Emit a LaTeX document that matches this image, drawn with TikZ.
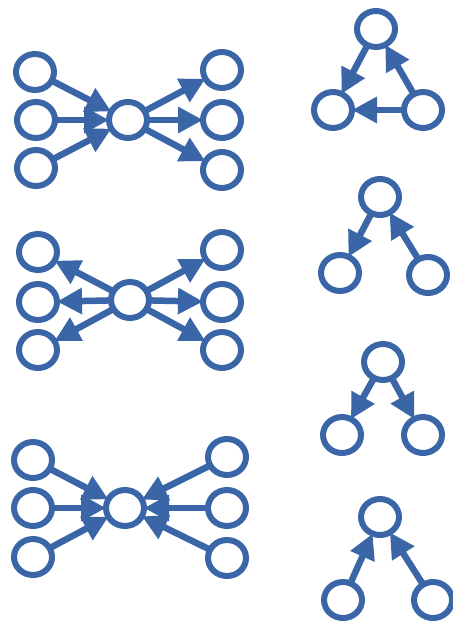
\documentclass[tikz,border=0pt]{standalone}
\usetikzlibrary{shapes.geometric,arrows.meta}
\definecolor{nblue}{RGB}{58,102,168}
\begin{document}
\begin{tikzpicture}[x=1pt,y=-1pt,
  nd/.style={ellipse,draw=nblue,line width=6pt,minimum width=38pt,minimum height=36pt,inner sep=0pt,outer sep=0pt},
  ar/.style={draw=nblue,line width=6.5pt,-{Triangle[length=25pt,width=25pt]},fill=nblue}]
\useasboundingbox[fill=white] (0,0) rectangle (452,628);
% group 1
\node[nd] (a1) at (35,72) {};
\node[nd] (a2) at (36,120) {};
\node[nd] (a3) at (36,168) {};
\node[nd] (ac) at (128,120) {};
\node[nd] (a4) at (222,70) {};
\node[nd] (a5) at (222,120) {};
\node[nd] (a6) at (222,170) {};
\draw[ar] (a1) -- (ac);
\draw[ar] (a2) -- (ac);
\draw[ar] (a3) -- (ac);
\draw[ar] (ac) -- (a4);
\draw[ar] (ac) -- (a5);
\draw[ar] (ac) -- (a6);
% group 2
\node[nd] (b1) at (38,252) {};
\node[nd] (b2) at (38,302) {};
\node[nd] (b3) at (38,350) {};
\node[nd] (bc) at (130,300) {};
\node[nd] (b4) at (222,250) {};
\node[nd] (b5) at (222,302) {};
\node[nd] (b6) at (222,350) {};
\draw[ar] (bc) -- (b1);
\draw[ar] (bc) -- (b2);
\draw[ar] (bc) -- (b3);
\draw[ar] (bc) -- (b4);
\draw[ar] (bc) -- (b5);
\draw[ar] (bc) -- (b6);
% group 3
\node[nd] (c1) at (33,460) {};
\node[nd] (c2) at (33,508) {};
\node[nd] (c3) at (33,557) {};
\node[nd] (cc) at (125,508) {};
\node[nd] (c4) at (227,457) {};
\node[nd] (c5) at (227,508) {};
\node[nd] (c6) at (227,558) {};
\draw[ar] (c1) -- (cc);
\draw[ar] (c2) -- (cc);
\draw[ar] (c3) -- (cc);
\draw[ar] (c4) -- (cc);
\draw[ar] (c5) -- (cc);
\draw[ar] (c6) -- (cc);
% group 4
\node[nd] (d1) at (376,29) {};
\node[nd] (d2) at (333,110) {};
\node[nd] (d3) at (423,110) {};
\draw[ar] (d1) -- (d2);
\draw[ar] (d3) -- (d1);
\draw[ar] (d3) -- (d2);
% group 5
\node[nd] (e1) at (380,197) {};
\node[nd] (e2) at (340,273) {};
\node[nd] (e3) at (428,275) {};
\draw[ar] (e1) -- (e2);
\draw[ar] (e3) -- (e1);
% group 6
\node[nd] (f1) at (383,362) {};
\node[nd] (f2) at (342,435) {};
\node[nd] (f3) at (423,435) {};
\draw[ar] (f1) -- (f2);
\draw[ar] (f1) -- (f3);
% group 7
\node[nd] (g1) at (380,517) {};
\node[nd] (g2) at (343,600) {};
\node[nd] (g3) at (433,600) {};
\draw[ar] (g2) -- (g1);
\draw[ar] (g3) -- (g1);
\end{tikzpicture}
\end{document}
